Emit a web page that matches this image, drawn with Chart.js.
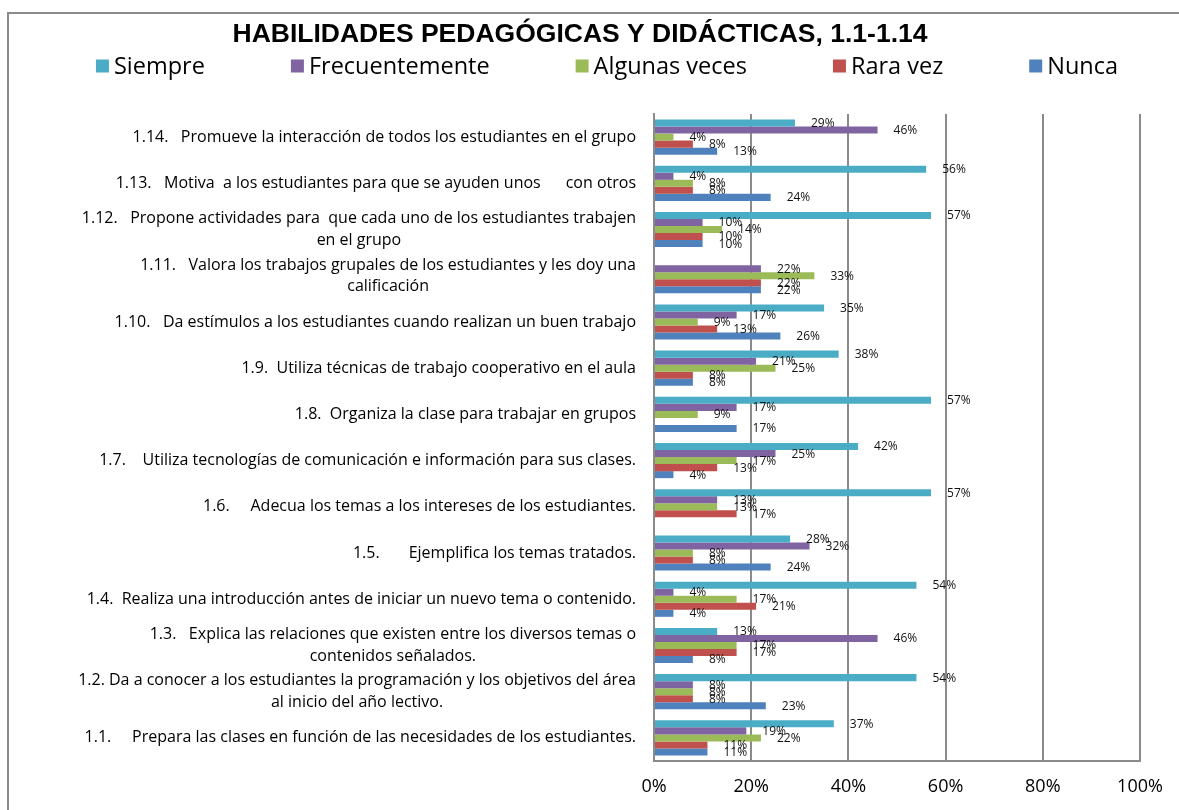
<!DOCTYPE html>
<html><head><meta charset="utf-8">
<script src="https://cdn.jsdelivr.net/npm/chart.js@4.4.0/dist/chart.umd.min.js"></script>
<style>html,body{margin:0;padding:0;background:#fff}#wrap{width:1179px;height:810px;position:relative}</style>
</head><body><div id="wrap"><canvas id="c" width="1179" height="810"></canvas></div>
<script>
// Categories, top to bottom (1.14 ... 1.1); each entry = label lines
const categories = [
  ["1.14.   Promueve la interacción de todos los estudiantes en el grupo"],
  ["1.13.   Motiva  a los estudiantes para que se ayuden unos      con otros"],
  ["1.12.   Propone actividades para  que cada uno de los estudiantes trabajen", "en el grupo"],
  ["1.11.   Valora los trabajos grupales de los estudiantes y les doy una", "calificación"],
  ["1.10.   Da estímulos a los estudiantes cuando realizan un buen trabajo"],
  ["1.9.  Utiliza técnicas de trabajo cooperativo en el aula"],
  ["1.8.  Organiza la clase para trabajar en grupos"],
  ["1.7.    Utiliza tecnologías de comunicación e información para sus clases."],
  ["1.6.     Adecua los temas a los intereses de los estudiantes."],
  ["1.5.       Ejemplifica los temas tratados."],
  ["1.4.  Realiza una introducción antes de iniciar un nuevo tema o contenido."],
  ["1.3.   Explica las relaciones que existen entre los diversos temas o", "contenidos señalados."],
  ["1.2. Da a conocer a los estudiantes la programación y los objetivos del área", "al inicio del año lectivo."],
  ["1.1.     Prepara las clases en función de las necesidades de los estudiantes."]
];
const seriesNames = ["Siempre", "Frecuentemente", "Algunas veces", "Rara vez", "Nunca"];
const siempre        = [29, 56, 57, null, 35, 38, 57, 42, 57, 28, 54, 13, 54, 37];
const frecuentemente = [46,  4, 10, 22, 17, 21, 17, 25, 13, 32,  4, 46,  8, 19];
const algunasVeces   = [ 4,  8, 14, 33,  9, 25,  9, 17, 13,  8, 17, 17,  8, 22];
const raraVez        = [ 8,  8, 10, 22, 13,  8, null, 13, 17,  8, 21, 17,  8, 11];
const nunca          = [13, 24, 10, 22, 26,  8, 17,  4, null, 24,  4,  8, 23, 11];
const xTickValues = [0, 20, 40, 60, 80, 100];
const seriesColors = ["#4BACC6", "#8064A2", "#9BBB59", "#C0504D", "#4F81BD"];
const titleText = "HABILIDADES PEDAGÓGICAS Y DIDÁCTICAS, 1.1-1.14";

const FONT = "'Open Sans', sans-serif";
const seriesData = [siempre, frecuentemente, algunasVeces, raraVez, nunca];

const decor = {
  id: 'decor',
  beforeDraw(chart) {
    const ctx = chart.ctx;
    ctx.save();
    ctx.fillStyle = '#fff';
    ctx.fillRect(0, 0, chart.width, chart.height);
    ctx.strokeStyle = '#8a8a8a';
    ctx.lineWidth = 2;
    ctx.strokeRect(8, 13, 1400, 1000);
    ctx.restore();
  },
  afterDatasetsDraw(chart) {
    const ctx = chart.ctx;
    ctx.save();
    ctx.font = "12px " + FONT;
    ctx.fillStyle = '#111';
    ctx.textAlign = 'left';
    ctx.textBaseline = 'middle';
    chart.data.datasets.forEach((ds, di) => {
      const meta = chart.getDatasetMeta(di);
      meta.data.forEach((el, i) => {
        const v = ds.data[i];
        if (v === null || v === undefined) return;
        ctx.fillText(v + '%', el.x + 16, el.y + 0.5);
      });
    });
    ctx.restore();
  },
  afterDraw(chart) {
    const ctx = chart.ctx;
    ctx.save();
    // category labels (block right-aligned, lines centred)
    const ys = chart.scales.y;
    const right = chart.chartArea.left - 18;
    ctx.font = "16px " + FONT;
    ctx.fillStyle = '#000';
    ctx.textBaseline = 'middle';
    ctx.textAlign = 'center';
    categories.forEach((lines, i) => {
      const yc = ys.getPixelForValue(i);
      const w = Math.max(...lines.map(l => ctx.measureText(l).width));
      const cx = right - w / 2;
      const lh = 21.5;
      lines.forEach((l, j) => {
        ctx.fillText(l, cx, yc + (j - (lines.length - 1) / 2) * lh);
      });
    });
    // legend
    ctx.font = "23.5px " + FONT;
    ctx.textAlign = 'left';
    const box = 13, boxGap = 5, gap = 86;
    const widths = seriesNames.map(n => box + boxGap + ctx.measureText(n).width);
    const total = widths.reduce((a, b) => a + b, 0) + gap * (seriesNames.length - 1);
    let x = 607 - total / 2;
    const ly = 66;
    seriesNames.forEach((n, i) => {
      ctx.fillStyle = seriesColors[i];
      ctx.fillRect(x, ly - box / 2, box, box);
      ctx.fillStyle = '#000';
      ctx.fillText(n, x + box + boxGap, ly + 1);
      x += widths[i] + gap;
    });
    ctx.restore();
  }
};

new Chart(document.getElementById('c'), {
  type: 'bar',
  data: {
    labels: categories,
    datasets: seriesNames.map((n, i) => ({
      label: n,
      data: seriesData[i],
      backgroundColor: seriesColors[i],
      borderWidth: 0,
      categoryPercentage: 0.76,
      barPercentage: 1.0
    }))
  },
  options: {
    indexAxis: 'y',
    responsive: false,
    devicePixelRatio: 1,
    animation: false,
    layout: { padding: { left: 20, right: 39, top: 0, bottom: 0 } },
    plugins: {
      legend: { display: false },
      tooltip: { enabled: false },
      title: {
        display: true,
        text: titleText,
        color: '#000',
        font: { family: "'Liberation Sans', Arial, sans-serif", size: 26.5, weight: 'bold', lineHeight: 1.2 },
        padding: { top: 19, bottom: 63.2 }
      }
    },
    scales: {
      x: {
        type: 'linear',
        min: 0, max: 100,
        afterBuildTicks(scale) { scale.ticks = xTickValues.map(v => ({ value: v })); },
        afterFit(scale) { scale.height = 810 - 761; },
        ticks: {
          callback: v => v + '%',
          color: '#000',
          font: { family: FONT, size: 18 },
          padding: 15,
          maxRotation: 0
        },
        grid: { color: '#8a8a8a', lineWidth: 2, drawTicks: false },
        border: { display: true, color: '#8a8a8a', width: 2 }
      },
      y: {
        afterFit(scale) { scale.width = 654 - 20; },
        ticks: { display: false },
        grid: { display: false, drawTicks: false },
        border: { display: true, color: '#8a8a8a', width: 2 }
      }
    }
  },
  plugins: [decor]
});
</script>
</body></html>
